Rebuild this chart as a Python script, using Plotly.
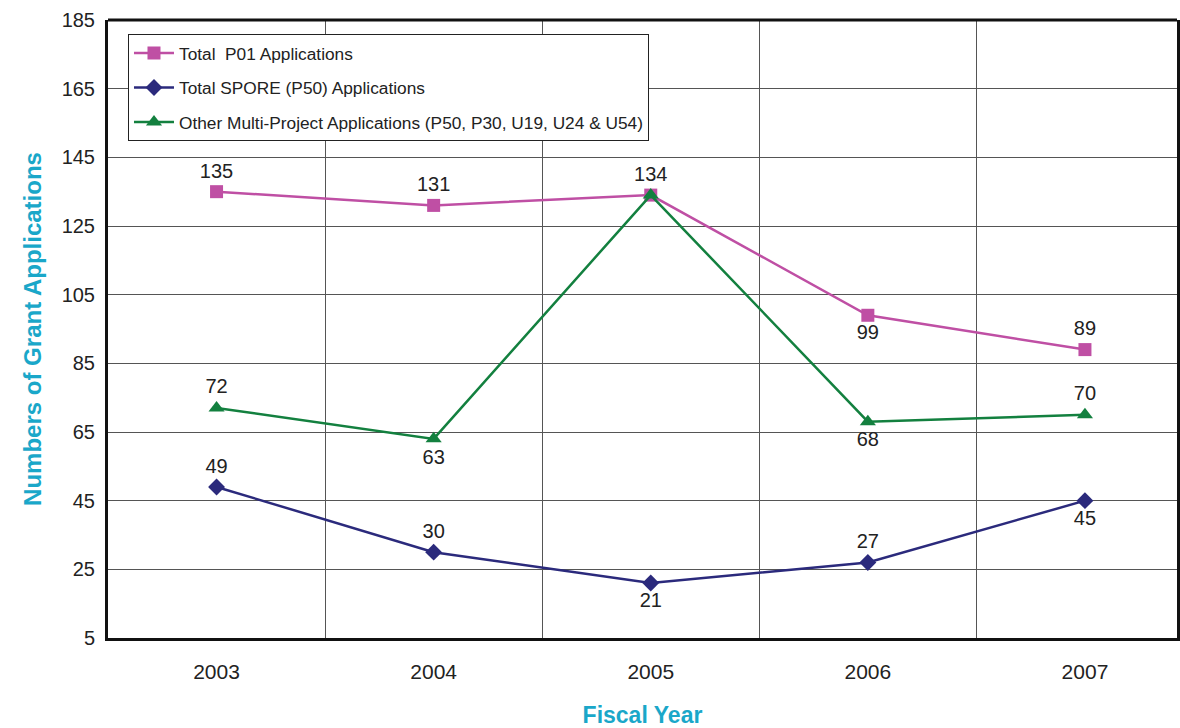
import plotly.graph_objects as go

years = ["2003", "2004", "2005", "2006", "2007"]
p01 = [135, 131, 134, 99, 89]
spore = [49, 30, 21, 27, 45]
other = [72, 63, 134, 68, 70]

p01_pos = ["top center", "top center", "top center", "bottom center", "top center"]
spore_pos = ["top center", "top center", "bottom center", "top center", "bottom center"]
other_pos = ["top center", "bottom center", "top center", "bottom center", "top center"]
other_text = ["72", "63", "", "68", "70"]

y_ticks = [5, 25, 45, 65, 85, 105, 125, 145, 165, 185]

xs = list(range(len(years)))
FONT = "Liberation Sans, Arial, sans-serif"
TITLE_COLOR = "#1aa7c9"

fig = go.Figure()
fig.add_trace(go.Scatter(
    x=xs, y=p01, name="Total  P01 Applications", legendgroup="a",
    mode="lines+markers+text", text=[str(v) for v in p01], textposition=p01_pos,
    line=dict(color="#bf4fa4", width=2.5),
    marker=dict(symbol="square", size=13, color="#bf4fa4"),
    textfont=dict(size=20, color="#222222", family=FONT), cliponaxis=False))
fig.add_trace(go.Scatter(
    x=xs, y=spore, name="Total SPORE (P50) Applications", legendgroup="b",
    mode="lines+markers+text", text=[str(v) for v in spore], textposition=spore_pos,
    line=dict(color="#2b2a7c", width=2.5),
    marker=dict(symbol="diamond", size=13, color="#2b2a7c"),
    textfont=dict(size=20, color="#222222", family=FONT), cliponaxis=False))
fig.add_trace(go.Scatter(
    x=xs, y=other, name="Other Multi-Project Applications (P50, P30, U19, U24 & U54)", legendgroup="c",
    mode="lines+markers+text", text=other_text, textposition=other_pos,
    line=dict(color="#13803f", width=2.5),
    marker=dict(symbol="triangle-up", size=14, color="#13803f"),
    textfont=dict(size=20, color="#222222", family=FONT), cliponaxis=False))

xr = [-0.5, 4.424]
fig.update_layout(
    width=1180, height=728,
    margin=dict(l=108, r=0, t=20, b=79),
    paper_bgcolor="white", plot_bgcolor="white",
    font=dict(family=FONT, color="#222222"),
    showlegend=True,
    legend=dict(x=0.0187, y=0.977, xanchor="left", yanchor="top",
                bordercolor="#222222", borderwidth=1, bgcolor="white",
                font=dict(size=17.3, family=FONT, color="#222222"),
                tracegroupgap=9, itemwidth=40),
    xaxis=dict(range=xr, tickmode="array", tickvals=xs, ticktext=years,
               showgrid=False, zeroline=False, showline=True, linecolor="#111111", linewidth=3,
               ticks="", tickfont=dict(size=21), ticklabelstandoff=13,
               title=dict(text="<b>Fiscal Year</b>", font=dict(size=23, color=TITLE_COLOR), standoff=29)),
    xaxis2=dict(range=xr, overlaying="x", tickmode="array", tickvals=[0.5, 1.5, 2.5, 3.5],
                showgrid=True, gridcolor="#555555", gridwidth=1, showticklabels=False,
                zeroline=False, showline=False, ticks=""),
    yaxis=dict(range=[5, 185], tickmode="array", tickvals=y_ticks,
               showgrid=True, gridcolor="#555555", gridwidth=1, zeroline=False,
               showline=True, linecolor="#111111", linewidth=3, mirror=True, ticks="",
               tickfont=dict(size=20), ticklabelstandoff=6,
               title=dict(text="<b>Numbers of Grant Applications</b>", font=dict(size=24, color=TITLE_COLOR), standoff=14)),
)
fig.add_trace(go.Scatter(x=[0], y=[None], xaxis="x2", showlegend=False, hoverinfo="skip"))
fig.add_shape(type="line", xref="paper", yref="paper", x0=0, x1=1, y0=1, y1=1,
              line=dict(color="#111111", width=3))
fig.write_html("out.html", config={"displayModeBar": False},
               post_script="document.body.style.margin='0';document.body.style.overflow='hidden';")
